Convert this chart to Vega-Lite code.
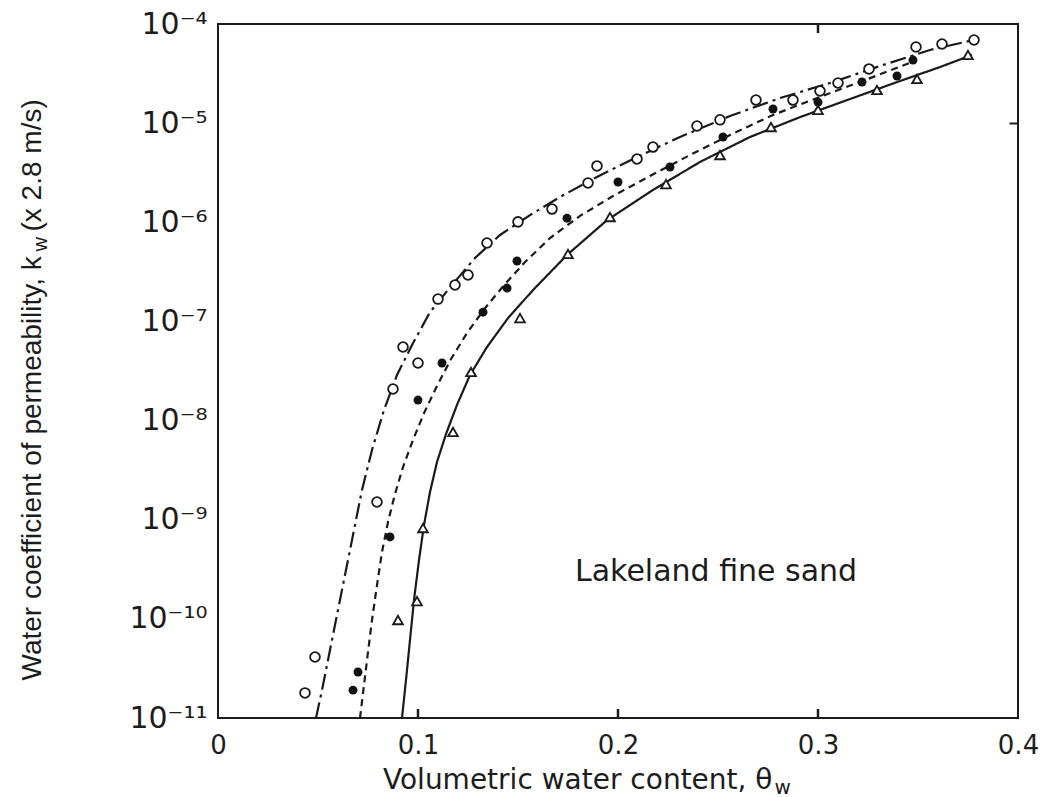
{
  "$schema": "https://vega.github.io/schema/vega-lite/v6.json",
  "width": 800,
  "height": 694,
  "autosize": {"type": "none"},
  "padding": {"left": 218, "top": 24, "right": 40, "bottom": 79},
  "background": "white",
  "config": {
    "view": {"stroke": "#1c1c1c", "strokeWidth": 2},
    "axis": {"grid": false, "domain": false, "labelColor": "#1c1c1c", "titleColor": "#1c1c1c", "titleFontWeight": "normal", "tickColor": "#1c1c1c", "tickWidth": 2}
  },
  "datasets": {
    "curves": [
      {"series": "A", "theta": 0.049, "k": 1.0e-11},
      {"series": "A", "theta": 0.052, "k": 1.91e-11},
      {"series": "A", "theta": 0.056, "k": 4.85e-11},
      {"series": "A", "theta": 0.06, "k": 1.23e-10},
      {"series": "A", "theta": 0.064, "k": 3.11e-10},
      {"series": "A", "theta": 0.068, "k": 7.87e-10},
      {"series": "A", "theta": 0.072, "k": 2.0e-9},
      {"series": "A", "theta": 0.077, "k": 5.05e-9},
      {"series": "A", "theta": 0.083, "k": 1.28e-8},
      {"series": "A", "theta": 0.0895, "k": 2.88e-8},
      {"series": "A", "theta": 0.097, "k": 5.78e-8},
      {"series": "A", "theta": 0.106, "k": 1.24e-7},
      {"series": "A", "theta": 0.117, "k": 2.33e-7},
      {"series": "A", "theta": 0.1285, "k": 4.36e-7},
      {"series": "A", "theta": 0.141, "k": 7.45e-7},
      {"series": "A", "theta": 0.156, "k": 1.18e-6},
      {"series": "A", "theta": 0.171, "k": 1.80e-6},
      {"series": "A", "theta": 0.1885, "k": 2.80e-6},
      {"series": "A", "theta": 0.2085, "k": 4.45e-6},
      {"series": "A", "theta": 0.231, "k": 7.25e-6},
      {"series": "A", "theta": 0.256, "k": 1.18e-5},
      {"series": "A", "theta": 0.281, "k": 1.79e-5},
      {"series": "A", "theta": 0.306, "k": 2.54e-5},
      {"series": "A", "theta": 0.331, "k": 3.77e-5},
      {"series": "A", "theta": 0.356, "k": 5.47e-5},
      {"series": "A", "theta": 0.38, "k": 7.06e-5},
      {"series": "B", "theta": 0.071, "k": 1.0e-11},
      {"series": "B", "theta": 0.073, "k": 2.15e-11},
      {"series": "B", "theta": 0.075, "k": 4.63e-11},
      {"series": "B", "theta": 0.077, "k": 9.73e-11},
      {"series": "B", "theta": 0.0795, "k": 2.19e-10},
      {"series": "B", "theta": 0.082, "k": 4.72e-10},
      {"series": "B", "theta": 0.085, "k": 9.48e-10},
      {"series": "B", "theta": 0.0885, "k": 1.82e-9},
      {"series": "B", "theta": 0.0925, "k": 3.40e-9},
      {"series": "B", "theta": 0.0975, "k": 6.37e-9},
      {"series": "B", "theta": 0.103, "k": 1.19e-8},
      {"series": "B", "theta": 0.1095, "k": 2.23e-8},
      {"series": "B", "theta": 0.1165, "k": 4.18e-8},
      {"series": "B", "theta": 0.1245, "k": 7.64e-8},
      {"series": "B", "theta": 0.1335, "k": 1.36e-7},
      {"series": "B", "theta": 0.1435, "k": 2.38e-7},
      {"series": "B", "theta": 0.1535, "k": 3.97e-7},
      {"series": "B", "theta": 0.166, "k": 6.94e-7},
      {"series": "B", "theta": 0.181, "k": 1.16e-6},
      {"series": "B", "theta": 0.1975, "k": 1.84e-6},
      {"series": "B", "theta": 0.216, "k": 2.93e-6},
      {"series": "B", "theta": 0.236, "k": 4.77e-6},
      {"series": "B", "theta": 0.256, "k": 7.59e-6},
      {"series": "B", "theta": 0.2775, "k": 1.21e-5},
      {"series": "B", "theta": 0.301, "k": 1.84e-5},
      {"series": "B", "theta": 0.3235, "k": 2.72e-5},
      {"series": "B", "theta": 0.3485, "k": 4.24e-5},
      {"series": "C", "theta": 0.092, "k": 1.0e-11},
      {"series": "C", "theta": 0.094, "k": 2.42e-11},
      {"series": "C", "theta": 0.096, "k": 6.12e-11},
      {"series": "C", "theta": 0.098, "k": 1.55e-10},
      {"series": "C", "theta": 0.1005, "k": 3.92e-10},
      {"series": "C", "theta": 0.103, "k": 8.85e-10},
      {"series": "C", "theta": 0.106, "k": 1.90e-9},
      {"series": "C", "theta": 0.1095, "k": 3.82e-9},
      {"series": "C", "theta": 0.114, "k": 7.31e-9},
      {"series": "C", "theta": 0.1195, "k": 1.44e-8},
      {"series": "C", "theta": 0.126, "k": 2.88e-8},
      {"series": "C", "theta": 0.1345, "k": 5.52e-8},
      {"series": "C", "theta": 0.145, "k": 1.08e-7},
      {"series": "C", "theta": 0.1575, "k": 2.07e-7},
      {"series": "C", "theta": 0.1745, "k": 4.68e-7},
      {"series": "C", "theta": 0.1945, "k": 1.05e-6},
      {"series": "C", "theta": 0.2175, "k": 2.12e-6},
      {"series": "C", "theta": 0.241, "k": 4.06e-6},
      {"series": "C", "theta": 0.266, "k": 7.25e-6},
      {"series": "C", "theta": 0.291, "k": 1.15e-5},
      {"series": "C", "theta": 0.316, "k": 1.75e-5},
      {"series": "C", "theta": 0.341, "k": 2.66e-5},
      {"series": "C", "theta": 0.361, "k": 3.68e-5},
      {"series": "C", "theta": 0.377, "k": 4.87e-5}
    ],
    "points": [
      {"series": "A", "theta": 0.0435, "k": 1.79e-11},
      {"series": "A", "theta": 0.0485, "k": 4.12e-11},
      {"series": "A", "theta": 0.0795, "k": 1.51e-9},
      {"series": "A", "theta": 0.0875, "k": 2.08e-8},
      {"series": "A", "theta": 0.0925, "k": 5.52e-8},
      {"series": "A", "theta": 0.1, "k": 3.81e-8},
      {"series": "A", "theta": 0.11, "k": 1.68e-7},
      {"series": "A", "theta": 0.1185, "k": 2.33e-7},
      {"series": "A", "theta": 0.125, "k": 2.94e-7},
      {"series": "A", "theta": 0.1345, "k": 6.18e-7},
      {"series": "A", "theta": 0.15, "k": 1.01e-6},
      {"series": "A", "theta": 0.167, "k": 1.36e-6},
      {"series": "A", "theta": 0.185, "k": 2.49e-6},
      {"series": "A", "theta": 0.1895, "k": 3.70e-6},
      {"series": "A", "theta": 0.2095, "k": 4.35e-6},
      {"series": "A", "theta": 0.2175, "k": 5.74e-6},
      {"series": "A", "theta": 0.2395, "k": 9.35e-6},
      {"series": "A", "theta": 0.251, "k": 1.08e-5},
      {"series": "A", "theta": 0.269, "k": 1.71e-5},
      {"series": "A", "theta": 0.2875, "k": 1.71e-5},
      {"series": "A", "theta": 0.301, "k": 2.11e-5},
      {"series": "A", "theta": 0.31, "k": 2.54e-5},
      {"series": "A", "theta": 0.3255, "k": 3.52e-5},
      {"series": "A", "theta": 0.349, "k": 5.86e-5},
      {"series": "A", "theta": 0.362, "k": 6.28e-5},
      {"series": "A", "theta": 0.378, "k": 6.90e-5},
      {"series": "B", "theta": 0.0675, "k": 1.91e-11},
      {"series": "B", "theta": 0.07, "k": 2.91e-11},
      {"series": "B", "theta": 0.086, "k": 6.70e-10},
      {"series": "B", "theta": 0.1, "k": 1.61e-8},
      {"series": "B", "theta": 0.112, "k": 3.81e-8},
      {"series": "B", "theta": 0.1325, "k": 1.24e-7},
      {"series": "B", "theta": 0.1445, "k": 2.17e-7},
      {"series": "B", "theta": 0.1495, "k": 4.07e-7},
      {"series": "B", "theta": 0.1745, "k": 1.10e-6},
      {"series": "B", "theta": 0.2, "k": 2.55e-6},
      {"series": "B", "theta": 0.226, "k": 3.61e-6},
      {"series": "B", "theta": 0.2525, "k": 7.25e-6},
      {"series": "B", "theta": 0.2775, "k": 1.39e-5},
      {"series": "B", "theta": 0.3, "k": 1.63e-5},
      {"series": "B", "theta": 0.322, "k": 2.60e-5},
      {"series": "B", "theta": 0.3395, "k": 2.99e-5},
      {"series": "B", "theta": 0.3475, "k": 4.33e-5},
      {"series": "C", "theta": 0.09, "k": 9.73e-11},
      {"series": "C", "theta": 0.0995, "k": 1.51e-10},
      {"series": "C", "theta": 0.1025, "k": 8.24e-10},
      {"series": "C", "theta": 0.1175, "k": 7.67e-9},
      {"series": "C", "theta": 0.1265, "k": 3.09e-8},
      {"series": "C", "theta": 0.151, "k": 1.08e-7},
      {"series": "C", "theta": 0.175, "k": 4.79e-7},
      {"series": "C", "theta": 0.196, "k": 1.13e-6},
      {"series": "C", "theta": 0.224, "k": 2.43e-6},
      {"series": "C", "theta": 0.251, "k": 4.77e-6},
      {"series": "C", "theta": 0.2765, "k": 9.14e-6},
      {"series": "C", "theta": 0.3, "k": 1.36e-5},
      {"series": "C", "theta": 0.3295, "k": 2.16e-5},
      {"series": "C", "theta": 0.3495, "k": 2.79e-5},
      {"series": "C", "theta": 0.375, "k": 4.87e-5}
    ],
    "frameTicks": [
      {"theta": 0.1, "k": 1e-11},
      {"theta": 0.2, "k": 1e-11},
      {"theta": 0.3, "k": 1e-11},
      {"theta": 0.3, "k": 1e-4}
    ],
    "notes": [
      {"label": "Lakeland fine sand", "theta": 0.1785, "k": 2.97e-10}
    ]
  },
  "resolve": {"axis": {"x": "independent", "y": "independent"}},
  "layer": [
    {
      "data": {"name": "curves"},
      "mark": {"type": "line", "color": "#1a1a1a", "strokeWidth": 2.2, "clip": true},
      "encoding": {
        "x": {
          "field": "theta", "type": "quantitative",
          "scale": {"domain": [0, 0.4], "nice": false, "zero": false},
          "axis": {
            "orient": "bottom",
            "values": [0, 0.1, 0.2, 0.3, 0.4],
            "labelExpr": "datum.value == 0 ? '0' : format(datum.value, '.1f')",
            "labelFont": "DejaVu Sans", "labelFontSize": 26,
            "labelFlush": false, "labelOverlap": false,
            "labelPadding": 14, "ticks": false,
            "title": "Volumetric water content, θ",
            "titleFont": "DejaVu Sans", "titleFontSize": 28,
            "titleAlign": "right", "titleAnchor": null, "titleBaseline": "alphabetic",
            "titleX": 554, "titleY": 70
          }
        },
        "y": {
          "field": "k", "type": "quantitative",
          "scale": {"type": "log", "domain": [1e-11, 1e-4], "nice": false},
          "axis": {
            "orient": "left",
            "values": [1e-11, 1e-10, 1e-9, 1e-8, 1e-7, 1e-6, 1e-5, 1e-4],
            "labelExpr": "['10⁻¹¹','10⁻¹⁰','10⁻⁹','10⁻⁸','10⁻⁷','10⁻⁶','10⁻⁵','10⁻⁴'][round(log(datum.value)/LN10) + 11]",
            "labelFont": "DejaVu Sans", "labelFontSize": 30,
            "labelFlush": false, "labelOverlap": false,
            "labelPadding": 11, "ticks": false,
            "title": "Water coefficient of permeability, k",
            "titleFont": "Liberation Sans", "titleFontSize": 28,
            "titleAngle": -90, "titleAlign": "left", "titleBaseline": "alphabetic",
            "titleX": -178, "titleY": 656
          }
        },
        "strokeDash": {
          "field": "series", "type": "nominal",
          "scale": {"domain": ["A", "B", "C"], "range": [[16, 5, 3, 5], [7, 5], [1, 0]]},
          "legend": null
        }
      }
    },
    {
      "data": {"name": "frameTicks"},
      "mark": {"type": "tick", "orient": "vertical", "color": "#1c1c1c", "thickness": 2.5, "size": 18, "clip": true, "opacity": 1},
      "encoding": {
        "x": {"field": "theta", "type": "quantitative", "axis": null},
        "y": {"field": "k", "type": "quantitative", "axis": null}
      }
    },
    {
      "data": {"name": "points"},
      "transform": [{"filter": "datum.series === 'A'"}],
      "mark": {"type": "point", "shape": "circle", "filled": true, "fill": "white", "stroke": "#1a1a1a", "strokeWidth": 1.8, "size": 95, "opacity": 1},
      "encoding": {
        "x": {"field": "theta", "type": "quantitative", "axis": null},
        "y": {
          "field": "k", "type": "quantitative",
          "axis": {
            "orient": "left", "labels": false, "ticks": false,
            "title": "(x 2.8 m/s)",
            "titleFont": "Liberation Sans", "titleFontSize": 28,
            "titleAngle": -90, "titleAlign": "left", "titleBaseline": "alphabetic",
            "titleX": -178, "titleY": 207
          }
        }
      }
    },
    {
      "data": {"name": "points"},
      "transform": [{"filter": "datum.series === 'B'"}],
      "mark": {"type": "point", "shape": "circle", "filled": true, "color": "#111111", "size": 80, "opacity": 1},
      "encoding": {
        "x": {"field": "theta", "type": "quantitative", "axis": null},
        "y": {
          "field": "k", "type": "quantitative",
          "axis": {
            "orient": "left", "offset": -800,
            "values": [1e-5],
            "labels": false, "ticks": true, "tickSize": 9, "title": null
          }
        }
      }
    },
    {
      "data": {"name": "points"},
      "transform": [{"filter": "datum.series === 'C'"}],
      "mark": {"type": "point", "shape": "triangle-up", "filled": true, "fill": "white", "stroke": "#1a1a1a", "strokeWidth": 1.8, "size": 95, "opacity": 1},
      "encoding": {
        "x": {"field": "theta", "type": "quantitative", "axis": null},
        "y": {"field": "k", "type": "quantitative", "axis": null}
      }
    },
    {
      "data": {"name": "notes"},
      "mark": {"type": "text", "align": "left", "baseline": "middle", "font": "DejaVu Sans", "fontSize": 30, "color": "#1c1c1c"},
      "encoding": {
        "x": {
          "field": "theta", "type": "quantitative",
          "axis": {
            "orient": "bottom", "labels": false, "ticks": false,
            "title": "w",
            "titleFont": "DejaVu Sans", "titleFontSize": 20,
            "titleAlign": "left", "titleBaseline": "alphabetic",
            "titleX": 556, "titleY": 75
          }
        },
        "y": {
          "field": "k", "type": "quantitative",
          "axis": {
            "orient": "left", "labels": false, "ticks": false,
            "title": "w",
            "titleFont": "Liberation Sans", "titleFontSize": 20,
            "titleAngle": -90, "titleAlign": "left", "titleBaseline": "alphabetic",
            "titleX": -172, "titleY": 227
          }
        },
        "text": {"field": "label"}
      }
    }
  ]
}
